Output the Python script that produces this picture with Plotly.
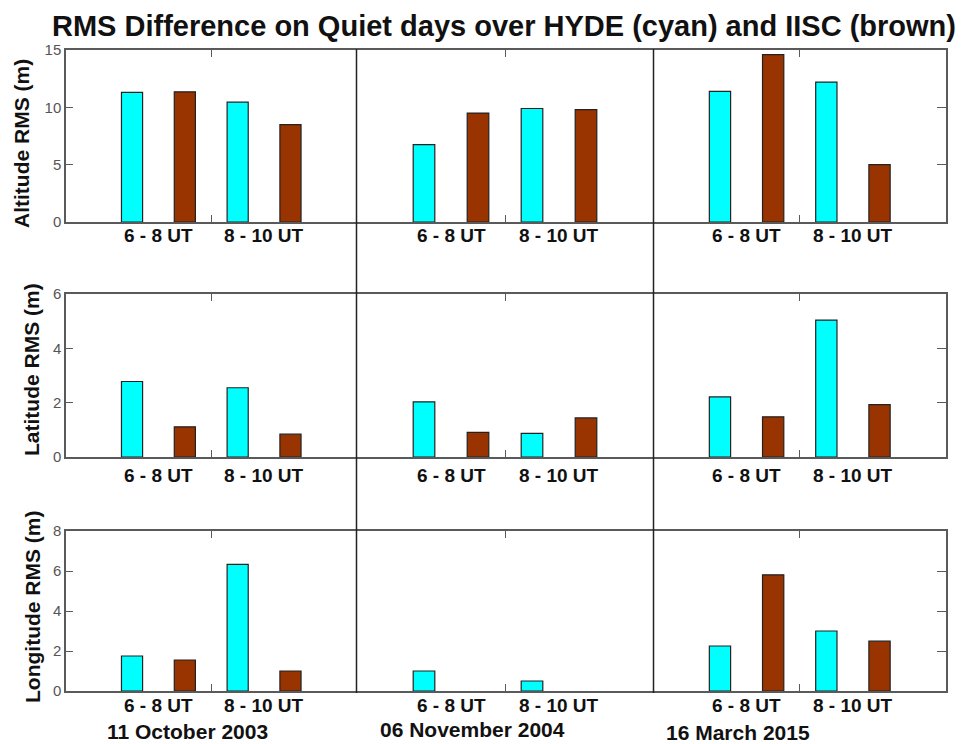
import plotly.graph_objects as go
from plotly.subplots import make_subplots

# ---------------- data ----------------
categories = ["6 - 8 UT", "8 - 10 UT"]
dates = ["11 October 2003", "06 November 2004", "16 March 2015"]
row_titles = ["Altitude RMS (m)", "Latitude RMS (m)", "Longitude RMS (m)"]

# [date][time slot]
hyde_alt = [[11.3, 10.45], [6.75, 9.9], [11.4, 12.2]]
iisc_alt = [[11.35, 8.5], [9.5, 9.8], [14.6, 5.0]]
hyde_lat = [[2.78, 2.55], [2.03, 0.87], [2.21, 5.04]]
iisc_lat = [[1.11, 0.84], [0.91, 1.44], [1.48, 1.93]]
hyde_lon = [[1.75, 6.33], [1.0, 0.5], [2.25, 3.0]]
iisc_lon = [[1.55, 1.0], [None, None], [5.81, 2.49]]

y_max = [15, 6, 8]
y_ticks = [[0, 5, 10, 15], [0, 2, 4, 6], [0, 2, 4, 6, 8]]

HYDE_COLOR = "#00FFFF"
IISC_COLOR = "#993300"

# ---------------- layout geometry (reference pixels) ----------------
VIEW_W, VIEW_H = 974, 744
OFF = 8                      # page body margin
W, H = VIEW_W - OFF, VIEW_H - OFF
col_px = [(66, 356.5), (356.5, 653.5), (653.5, 946)]
row_px = [(50, 222), (294, 457), (531, 691)]
FONT = "Liberation Sans, Arial, sans-serif"

def px_x(p):
    return (p - OFF) / W

def px_y(p):
    return 1 - (p - OFF) / H

fig = make_subplots(rows=3, cols=3)

hyde_rows = [hyde_alt, hyde_lat, hyde_lon]
iisc_rows = [iisc_alt, iisc_lat, iisc_lon]

for r in range(3):
    for c in range(3):
        hx = [2 * k + 1 for k in range(len(categories))]
        bx = [2 * k + 2 for k in range(len(categories))]
        fig.add_trace(go.Bar(x=hx, y=hyde_rows[r][c], width=0.4,
                             marker=dict(color=HYDE_COLOR, line=dict(color="#222", width=1.2)),
                             showlegend=False), row=r + 1, col=c + 1)
        fig.add_trace(go.Bar(x=bx, y=iisc_rows[r][c], width=0.4,
                             marker=dict(color=IISC_COLOR, line=dict(color="#222", width=1.2)),
                             showlegend=False), row=r + 1, col=c + 1)

AX_COLOR = "#5a5a5a"
for r in range(3):
    for c in range(3):
        idx = r * 3 + c + 1
        xa = "xaxis" if idx == 1 else f"xaxis{idx}"
        ya = "yaxis" if idx == 1 else f"yaxis{idx}"
        x0, x1 = col_px[c]
        y0, y1 = row_px[r]
        fig.layout[xa].update(
            domain=[px_x(x0), px_x(x1)], range=[-0.25, 5.25], automargin=False,
            showline=True, linecolor=AX_COLOR, linewidth=1.5, mirror="ticks",
            ticks="inside", tickvals=[2.5], ticklen=7, tickcolor=AX_COLOR, tickwidth=1.2,
            showticklabels=False, showgrid=False, zeroline=False, fixedrange=True)
        yconf = dict(domain=[px_y(y1), px_y(y0)], range=[0, y_max[r]], automargin=False,
                     showgrid=False, zeroline=False, fixedrange=True)
        if c == 0:
            yconf.update(showline=True, linecolor=AX_COLOR, linewidth=1.5, side="left",
                         ticks="inside", tickvals=y_ticks[r], ticklen=7,
                         tickcolor=AX_COLOR, tickwidth=1.2, showticklabels=True,
                         tickfont=dict(family=FONT, size=15, color="#555555"))
        elif c == 2:
            yconf.update(showline=True, linecolor=AX_COLOR, linewidth=1.5, side="right",
                         ticks="inside", tickvals=y_ticks[r][1:-1], ticklen=9,
                         tickcolor=AX_COLOR, tickwidth=1.2, showticklabels=False)
        else:
            yconf.update(showline=False, ticks="", showticklabels=False)
        fig.layout[ya].update(**yconf)

annotations = []
# time-slot labels under each panel
label_y = [235, 475, 705]
for r in range(3):
    for c in range(3):
        idx = r * 3 + c + 1
        xref = "x" if idx == 1 else f"x{idx}"
        for k, cat in enumerate(categories):
            annotations.append(dict(
                x=2 * k + 1.5, xref=xref, y=px_y(label_y[r]), yref="paper",
                text=cat, showarrow=False, xanchor="center", yanchor="middle",
                font=dict(family=FONT, size=19, color="#111", weight="bold")))

# date labels
date_x = [187, 472, 738]
date_y = [731, 729, 732]
for c in range(3):
    annotations.append(dict(
        x=px_x(date_x[c]), y=px_y(date_y[c]), xref="paper", yref="paper",
        text=dates[c], showarrow=False, xanchor="center", yanchor="middle",
        font=dict(family=FONT, size=21, color="#111", weight="bold")))

# row (y-axis) titles
rt_x = [22, 31, 32]
rt_y = [144, 370, 607]
for r in range(3):
    annotations.append(dict(
        x=px_x(rt_x[r]), y=px_y(rt_y[r]), xref="paper", yref="paper",
        text=row_titles[r], showarrow=False, textangle=-90,
        xanchor="center", yanchor="middle",
        font=dict(family=FONT, size=21, color="#111", weight="bold")))

# main title
annotations.append(dict(
    x=px_x(504), y=px_y(8.5), xref="paper", yref="paper",
    text="RMS Difference on Quiet days over HYDE (cyan) and IISC (brown)",
    showarrow=False, xanchor="center", yanchor="top", borderpad=0,
    font=dict(family=FONT, size=29, color="#111", weight="bold")))

shapes = []
for sx in (356.5, 653.5):
    shapes.append(dict(type="line", xref="paper", yref="paper",
                       x0=px_x(sx), x1=px_x(sx), y0=px_y(49), y1=px_y(693),
                       line=dict(color="#222", width=1.5)))

fig.update_layout(
    width=W, height=H, margin=dict(l=0, r=0, t=0, b=0, pad=0, autoexpand=False),
    paper_bgcolor="white", plot_bgcolor="white",
    barmode="overlay", annotations=annotations, shapes=shapes,
    showlegend=False)

fig.write_html("out.html")
